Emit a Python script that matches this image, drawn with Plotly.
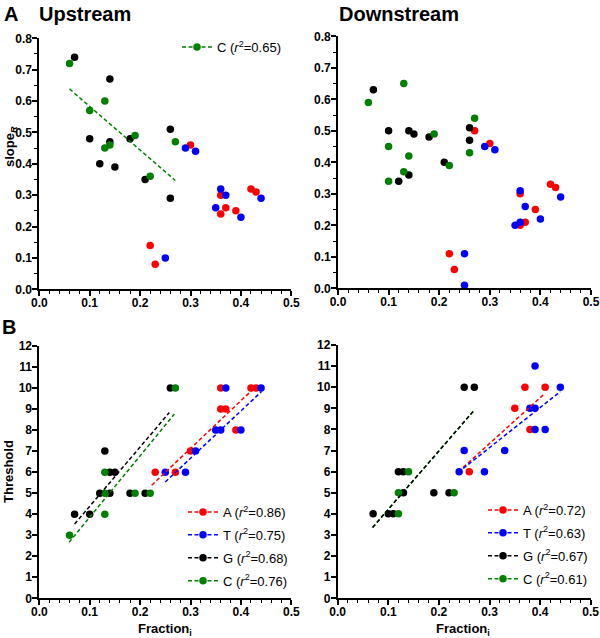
import plotly.graph_objects as go

# ---------------- data ----------------
# Panel A - Upstream (slope_R vs fraction)
up_A_x = [0.30, 0.36, 0.37, 0.36, 0.39, 0.42, 0.43, 0.22, 0.23]
up_A_y = [0.46, 0.30, 0.26, 0.24, 0.25, 0.32, 0.31, 0.14, 0.08]
up_T_x = [0.29, 0.31, 0.36, 0.37, 0.35, 0.40, 0.44, 0.25]
up_T_y = [0.45, 0.44, 0.32, 0.30, 0.26, 0.23, 0.29, 0.10]
up_G_x = [0.07, 0.14, 0.10, 0.14, 0.18, 0.12, 0.15, 0.21, 0.26, 0.26]
up_G_y = [0.74, 0.67, 0.48, 0.47, 0.48, 0.40, 0.39, 0.35, 0.51, 0.29]
up_C_x = [0.06, 0.13, 0.10, 0.19, 0.13, 0.14, 0.27, 0.22]
up_C_y = [0.72, 0.60, 0.57, 0.49, 0.45, 0.46, 0.47, 0.36]

# Panel A - Downstream
dn_A_x = [0.27, 0.30, 0.36, 0.39, 0.42, 0.43, 0.36, 0.37, 0.22, 0.23]
dn_A_y = [0.50, 0.46, 0.30, 0.25, 0.33, 0.32, 0.20, 0.21, 0.11, 0.06]
dn_T_x = [0.29, 0.31, 0.36, 0.37, 0.40, 0.44, 0.35, 0.36, 0.25, 0.25]
dn_T_y = [0.45, 0.44, 0.31, 0.26, 0.22, 0.29, 0.20, 0.21, 0.11, 0.01]
dn_G_x = [0.07, 0.10, 0.14, 0.15, 0.18, 0.14, 0.12, 0.21, 0.26, 0.26]
dn_G_y = [0.63, 0.50, 0.50, 0.49, 0.48, 0.36, 0.34, 0.40, 0.51, 0.47]
dn_C_x = [0.13, 0.06, 0.19, 0.10, 0.14, 0.13, 0.10, 0.22, 0.27, 0.26]
dn_C_y = [0.65, 0.59, 0.49, 0.45, 0.42, 0.37, 0.34, 0.39, 0.54, 0.43]

# Panel B - Upstream (Threshold vs fraction)
tu_A_x = [0.36, 0.42, 0.43, 0.36, 0.37, 0.39, 0.30, 0.23, 0.27]
tu_A_y = [10, 10, 10, 9, 9, 8, 7, 6, 6]
tu_T_x = [0.37, 0.44, 0.35, 0.36, 0.40, 0.31, 0.25, 0.29]
tu_T_y = [10, 10, 8, 8, 8, 7, 6, 6]
tu_G_x = [0.26, 0.13, 0.14, 0.15, 0.12, 0.14, 0.18, 0.21, 0.07, 0.10]
tu_G_y = [10, 7, 6, 6, 5, 5, 5, 5, 4, 4]
tu_C_x = [0.27, 0.13, 0.13, 0.19, 0.22, 0.13, 0.06]
tu_C_y = [10, 6, 5, 5, 5, 4, 3]

# Panel B - Downstream
td_A_x = [0.37, 0.41, 0.35, 0.38, 0.26]
td_A_y = [10, 10, 9, 8, 6]
td_T_x = [0.39, 0.44, 0.38, 0.39, 0.39, 0.41, 0.33, 0.25, 0.24, 0.29]
td_T_y = [11, 10, 9, 9, 8, 8, 7, 7, 6, 6]
td_G_x = [0.25, 0.27, 0.12, 0.13, 0.13, 0.19, 0.22, 0.07, 0.10, 0.11]
td_G_y = [10, 10, 6, 6, 5, 5, 5, 4, 4, 4]
td_C_x = [0.14, 0.12, 0.23, 0.12]
td_C_y = [6, 5, 5, 4]

# Linear fits: (slope, intercept, x_start, x_end)
fit_up_C = (-1.39, 0.722, 0.06, 0.27)
fit_tu_A = (22.7, 0.316, 0.223, 0.421)
fit_tu_T = (22.5, -0.09, 0.25, 0.441)
fit_tu_G = (28.2, 1.557, 0.07, 0.258)
fit_tu_C = (29.2, 0.937, 0.059, 0.268)
fit_td_A = (21.7, 0.82, 0.248, 0.406)
fit_td_T = (18.96, 1.45, 0.248, 0.44)
fit_td_G = (27.65, 1.45, 0.069, 0.269)
fit_td_C = (27.65, 1.45, 0.069, 0.269)

r2_up = {"C": "0.65"}
r2_tu = {"A": "0.86", "T": "0.75", "G": "0.68", "C": "0.76"}
r2_td = {"A": "0.72", "T": "0.63", "G": "0.67", "C": "0.61"}

colors = {"A": "#ff0000", "T": "#0000ff", "G": "#000000", "C": "#008000"}

# ---------------- figure ----------------
W, H = 600, 638
fig = go.Figure()

def px(x):
    return x / W

def py(y):
    return 1 - y / H

MS = 7.5
DASH = "4px,2.5px"


def add_points(xs, ys, base, col):
    fig.add_trace(go.Scatter(x=xs, y=ys, mode="markers", xaxis="x" + base, yaxis="y" + base,
                             marker=dict(size=MS, color=col), showlegend=False,
                             cliponaxis=False, hoverinfo="x+y"))


def add_fit(fit, base, col):
    m, b, x0, x1 = fit
    fig.add_trace(go.Scatter(x=[x0, x1], y=[m * x0 + b, m * x1 + b], mode="lines",
                             xaxis="x" + base, yaxis="y" + base,
                             line=dict(color=col, width=1.5, dash=DASH), showlegend=False,
                             cliponaxis=False, hoverinfo="skip"))


def add_legend(name, r2, col, legend, group):
    fig.add_trace(go.Scatter(x=[None], y=[None], mode="lines+markers",
                             name=f"{name} (<i>r</i><sup>2</sup>={r2})",
                             line=dict(color=col, width=1.5, dash=DASH),
                             marker=dict(size=MS, color=col),
                             legend=legend, legendgroup=group, showlegend=True))


# Panel A upstream (axes 1 -> base "")
for k, (xs, ys) in {"A": (up_A_x, up_A_y), "T": (up_T_x, up_T_y),
                    "G": (up_G_x, up_G_y), "C": (up_C_x, up_C_y)}.items():
    add_points(xs, ys, "", colors[k])
add_fit(fit_up_C, "", colors["C"])
add_legend("C", r2_up["C"], colors["C"], "legend", "u1")

# Panel A downstream
for k, (xs, ys) in {"A": (dn_A_x, dn_A_y), "T": (dn_T_x, dn_T_y),
                    "G": (dn_G_x, dn_G_y), "C": (dn_C_x, dn_C_y)}.items():
    add_points(xs, ys, "2", colors[k])

# Panel B upstream
for k, (xs, ys) in {"A": (tu_A_x, tu_A_y), "T": (tu_T_x, tu_T_y),
                    "G": (tu_G_x, tu_G_y), "C": (tu_C_x, tu_C_y)}.items():
    add_points(xs, ys, "3", colors[k])
for k, f in {"A": fit_tu_A, "T": fit_tu_T, "G": fit_tu_G, "C": fit_tu_C}.items():
    add_fit(f, "3", colors[k])
for k in ["A", "T", "G", "C"]:
    add_legend(k, r2_tu[k], colors[k], "legend2", "b3" + k)

# Panel B downstream
for k, (xs, ys) in {"A": (td_A_x, td_A_y), "T": (td_T_x, td_T_y),
                    "G": (td_G_x, td_G_y), "C": (td_C_x, td_C_y)}.items():
    add_points(xs, ys, "4", colors[k])
for k, f in {"C": fit_td_C, "A": fit_td_A, "T": fit_td_T, "G": fit_td_G}.items():
    add_fit(f, "4", colors[k])
for k in ["A", "T", "G", "C"]:
    add_legend(k, r2_td[k], colors[k], "legend3", "b4" + k)

FONT = "Liberation Sans, Arial, sans-serif"
tickfont = dict(family=FONT, size=12, color="black", weight="bold")


def xax(x0, x1, anchor):
    return dict(domain=[px(x0), px(x1)], anchor=anchor, range=[0, 0.5], dtick=0.1, tick0=0,
                tickformat=".1f", showline=True, linecolor="black", linewidth=1.7,
                ticks="outside", ticklen=5, tickwidth=1.5, tickcolor="black",
                ticklabelstandoff=-4,
                minor=dict(dtick=0.02, ticklen=3, tickwidth=1.2, tickcolor="black", ticks="outside"),
                showgrid=False, zeroline=False, tickfont=tickfont, fixedrange=True,
                automargin=False)


def yax(y_top, y_bot, anchor, rng, dt, minor_dt, fmt):
    d = dict(domain=[py(y_bot), py(y_top)], anchor=anchor, range=rng, dtick=dt, tick0=0,
             tickformat=fmt, showline=True, linecolor="black", linewidth=1.7,
             ticks="outside", ticklen=5, tickwidth=1.5, tickcolor="black",
             ticklabelstandoff=-2,
             showgrid=False, zeroline=False, tickfont=tickfont, fixedrange=True,
             automargin=False)
    if minor_dt:
        d["minor"] = dict(dtick=minor_dt, ticklen=3, tickwidth=1.2, tickcolor="black", ticks="outside")
    return d


legfont = dict(family=FONT, size=13, color="black")

fig.update_layout(
    width=W, height=H, margin=dict(l=0, r=0, t=0, b=0, autoexpand=False),
    paper_bgcolor="white", plot_bgcolor="white",
    xaxis=xax(39.3, 291.3, "y"),
    yaxis=yax(38.3, 289.3, "x", [0, 0.8], 0.1, 0.05, ".1f"),
    xaxis2=xax(338, 591, "y2"),
    yaxis2=yax(36.3, 288.3, "x2", [0, 0.8], 0.1, 0.05, ".1f"),
    xaxis3=xax(39.3, 291.3, "y3"),
    yaxis3=yax(346, 598.3, "x3", [0, 12], 1, None, "d"),
    xaxis4=xax(337.7, 590.7, "y4"),
    yaxis4=yax(345, 598.3, "x4", [0, 12], 1, None, "d"),
    legend=dict(x=px(177), y=py(32), xanchor="left", yanchor="top", font=legfont,
                bgcolor="rgba(0,0,0,0)", borderwidth=0),
    legend2=dict(x=px(183), y=py(497), xanchor="left", yanchor="top", font=legfont,
                 bgcolor="rgba(0,0,0,0)", borderwidth=0, tracegroupgap=3),
    legend3=dict(x=px(483), y=py(495), xanchor="left", yanchor="top", font=legfont,
                 bgcolor="rgba(0,0,0,0)", borderwidth=0, tracegroupgap=3),
    showlegend=True,
)

titlefont = dict(family=FONT, size=20, color="black", weight="bold")
axtitlefont = dict(family=FONT, size=13, color="black", weight="bold")
ann = [
    dict(text="A", x=px(2), y=py(14), xanchor="left", yanchor="middle", font=titlefont),
    dict(text="Upstream", x=px(37), y=py(14), xanchor="left", yanchor="middle", font=titlefont),
    dict(text="Downstream", x=px(337), y=py(14), xanchor="left", yanchor="middle", font=titlefont),
    dict(text="B", x=px(0), y=py(327), xanchor="left", yanchor="middle", font=titlefont),
    dict(text="slope<sub><i>R</i></sub>", x=px(10), y=py(147), textangle=-90,
         xanchor="center", yanchor="middle", font=axtitlefont),
    dict(text="Threshold", x=px(8), y=py(472), textangle=-90,
         xanchor="center", yanchor="middle", font=axtitlefont),
    dict(text="Fraction<sub>i</sub>", x=px(165), y=py(629), xanchor="center", yanchor="middle",
         font=axtitlefont),
    dict(text="Fraction<sub>i</sub>", x=px(463), y=py(629), xanchor="center", yanchor="middle",
         font=axtitlefont),
]
for a in ann:
    a.update(xref="paper", yref="paper", showarrow=False)
fig.update_layout(annotations=ann)

fig.write_html(
    "out.html",
    config={"displayModeBar": False},
    post_script="document.body.style.margin='0px';document.body.style.padding='0px';"
                "document.documentElement.style.overflow='hidden';",
)
